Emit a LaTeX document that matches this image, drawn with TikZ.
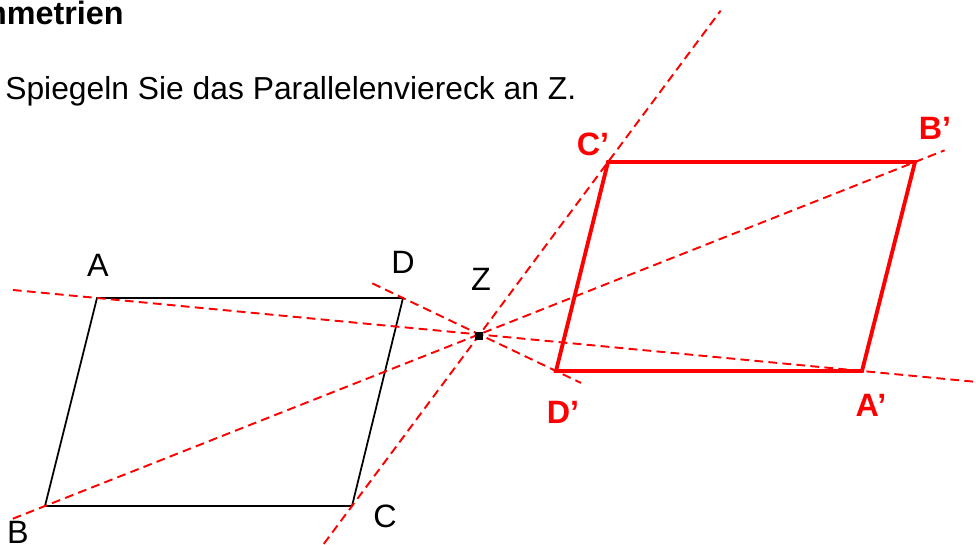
\documentclass[tikz,border=0pt]{standalone}
\usepackage{fontspec}
\setmainfont{Liberation Sans}
\usetikzlibrary{calc}

\begin{document}
\begin{tikzpicture}[
    x=0.02cm, y=-0.02cm,
    txt/.style={inner sep=0pt, font=\fontsize{18.4}{22}\selectfont},
    redlbl/.style={inner sep=0pt, text=red, font=\fontsize{18.4}{22}\selectfont\bfseries},
    orig/.style={draw=black, line width=1pt},
    mirror/.style={draw=red, line width=2.2pt},
    ray/.style={draw=red, line width=1.1pt, dash pattern=on 5pt off 3pt}
]
\useasboundingbox (0,0) rectangle (976,544);

% original and mirrored corners
\coordinate (A) at (97,298);
\coordinate (D) at (403,298);
\coordinate (C) at (352,506);
\coordinate (B) at (45,506);
\coordinate (Z) at (479,335);
\coordinate (Ap) at (862,371);
\coordinate (Dp) at (556,371);
\coordinate (Cp) at (608,162);
\coordinate (Bp) at (915,162);

% free ends of the rays through Z
\coordinate (a0) at ($(A)!-0.11!(Ap)$);
\coordinate (a1) at ($(A)!1.15!(Ap)$);
\coordinate (b0) at ($(B)!-0.037!(Bp)$);
\coordinate (b1) at ($(B)!1.034!(Bp)$);
\coordinate (c0) at ($(C)!-0.11!(Cp)$);
\coordinate (c1) at ($(C)!1.44!(Cp)$);
\coordinate (d0) at ($(D)!-0.2!(Dp)$);
\coordinate (d1) at ($(D)!1.163!(Dp)$);

\node[txt, font=\fontsize{18.4}{22}\selectfont\bfseries, anchor=base east] (title) at (124,25) {Symmetrien};
\node[txt, font=\fontsize{18.1}{22}\selectfont, anchor=base west] (task) at (5,99) {Spiegeln Sie das Parallelenviereck an Z.};

\draw[orig] (A) -- (D) -- (C) -- (B) -- cycle;
\draw[mirror] (Ap) -- (Dp) -- (Cp) -- (Bp) -- cycle;

\draw[ray] (a0) -- (a1);
\draw[ray] (b0) -- (b1);
\draw[ray] (c0) -- (c1);
\draw[ray] (d0) -- (d1);

\node[fill=black, inner sep=0pt, minimum size=4pt] (zdot) at (479,336) {};

\node[txt] (lA) at (98,265) {A};
\node[txt] (lD) at (403,262) {D};
\node[txt] (lC) at (385,516) {C};
\node[txt] (lB) at (18,532) {B};
\node[txt] (lZ) at (481,279) {Z};
\node[redlbl] (lAp) at (871,405) {A’};
\node[redlbl] (lDp) at (563,412) {D’};
\node[redlbl] (lCp) at (593,144) {C’};
\node[redlbl] (lBp) at (935,128) {B’};
\end{tikzpicture}
\end{document}
